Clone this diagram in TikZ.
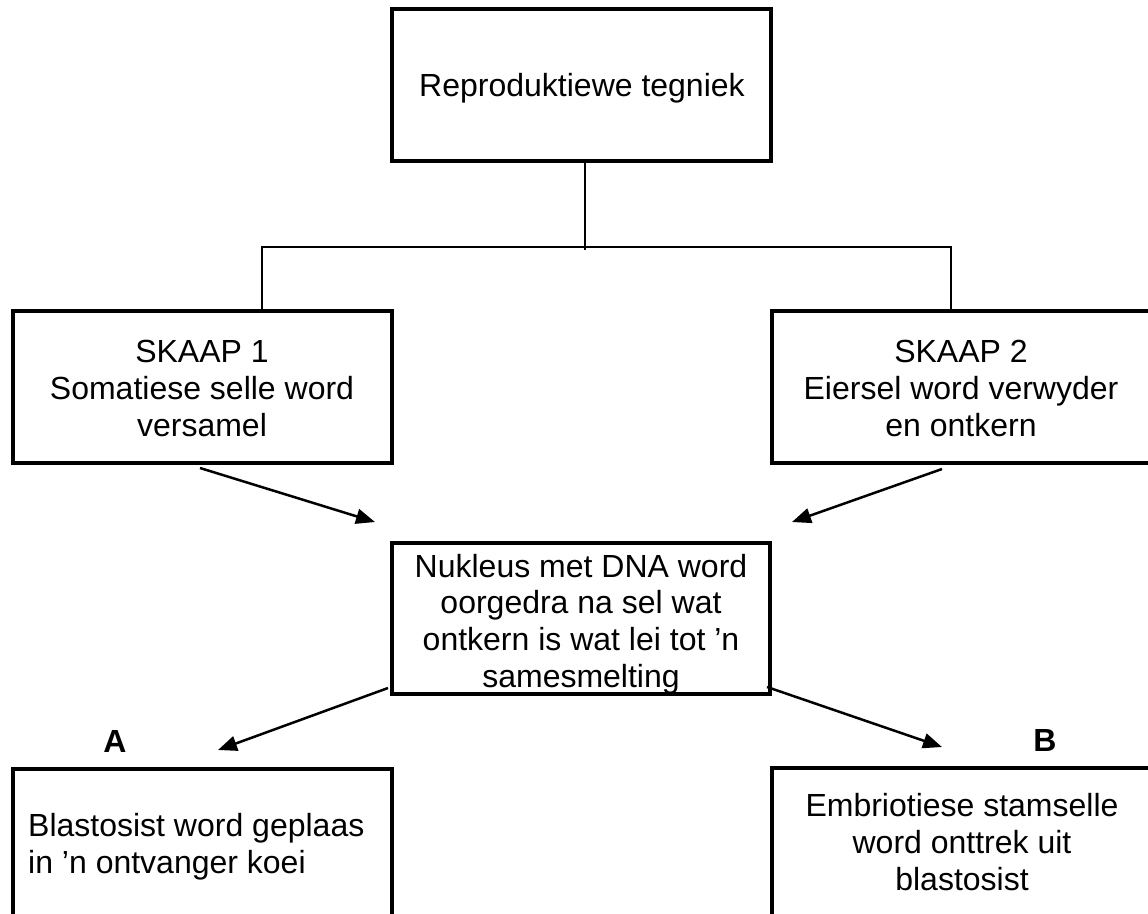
\documentclass[tikz,border=0pt]{standalone}
\usepackage{fontspec}
\setmainfont{Liberation Sans}
\usetikzlibrary{arrows.meta,calc}
\begin{document}
\begin{tikzpicture}[x=1pt,y=-1pt,
  box/.style={draw, line width=4pt, minimum width=379pt, minimum height=152pt, inner sep=0pt},
  txt/.style={inner sep=0pt, align=center, font=\fontsize{32}{36.8}\selectfont},
  lbl/.style={inner sep=0pt, font=\fontsize{32}{36.8}\selectfont\bfseries},
  tree/.style={line width=1.8pt},
  arr/.style={line width=2.5pt, -{Triangle[length=19pt,width=15pt]}}]
\useasboundingbox (0,0) rectangle (1148,913);
\clip (0,0) rectangle (1148,913);
% boxes
\node[box] (top) at (581.5,85) {};
\node[box] (s1) at (202.5,387) {};
\node[box] (s2) at (961.5,387) {};
\node[box, minimum width=378pt, minimum height=151pt] (m) at (581,618.5) {};
\node[box] (b1) at (202.5,845) {};
\node[box] (b2) at (961.5,844) {};
% texts
\node[txt] (ttop) at (582,88) {Reproduktiewe tegniek};
\node[txt] (ts1) at (202,388.3) {SKAAP 1\\Somatiese selle word\\versamel};
\node[txt] (ts2) at (961,388.3) {SKAAP 2\\Eiersel word verwyder\\en ontkern};
\node[txt] (tm) at (581,624) {Nukleus met DNA word\\oorgedra na sel wat\\ontkern is wat lei tot ’n\\samesmelting};
\node[txt, align=left, anchor=west] (tb1) at (28,846.4) {Blastosist word geplaas\\in ’n ontvanger koei};
\node[txt] (tb2) at (962,842.3) {Embriotiese stamselle\\word onttrek uit\\blastosist};
\node[lbl] (la) at (115,741) {A};
\node[lbl] (lb) at (1045,740) {B};
% tree connectors
\coordinate (hj) at (585,247);
\coordinate (hl) at (262,247);
\coordinate (hr) at (951,247);
\draw[tree] (top.south -| hj) -- ($(hj)+(0,3)$);
\draw[tree] (s1.north -| hl) -- (hl) -- (hr) -- (s2.north -| hr);
% arrows
\coordinate (a1s) at (200,468); \coordinate (a1e) at (375,522);
\coordinate (a2s) at (942,469); \coordinate (a2e) at (792,522);
\coordinate (a3s) at (388,688); \coordinate (a3e) at (218,750);
\coordinate (a4s) at (767,687); \coordinate (a4e) at (942,747);
\draw[arr] (a1s) -- (a1e);
\draw[arr] (a2s) -- (a2e);
\draw[arr] (a3s) -- (a3e);
\draw[arr] (a4s) -- (a4e);
\end{tikzpicture}
\end{document}
